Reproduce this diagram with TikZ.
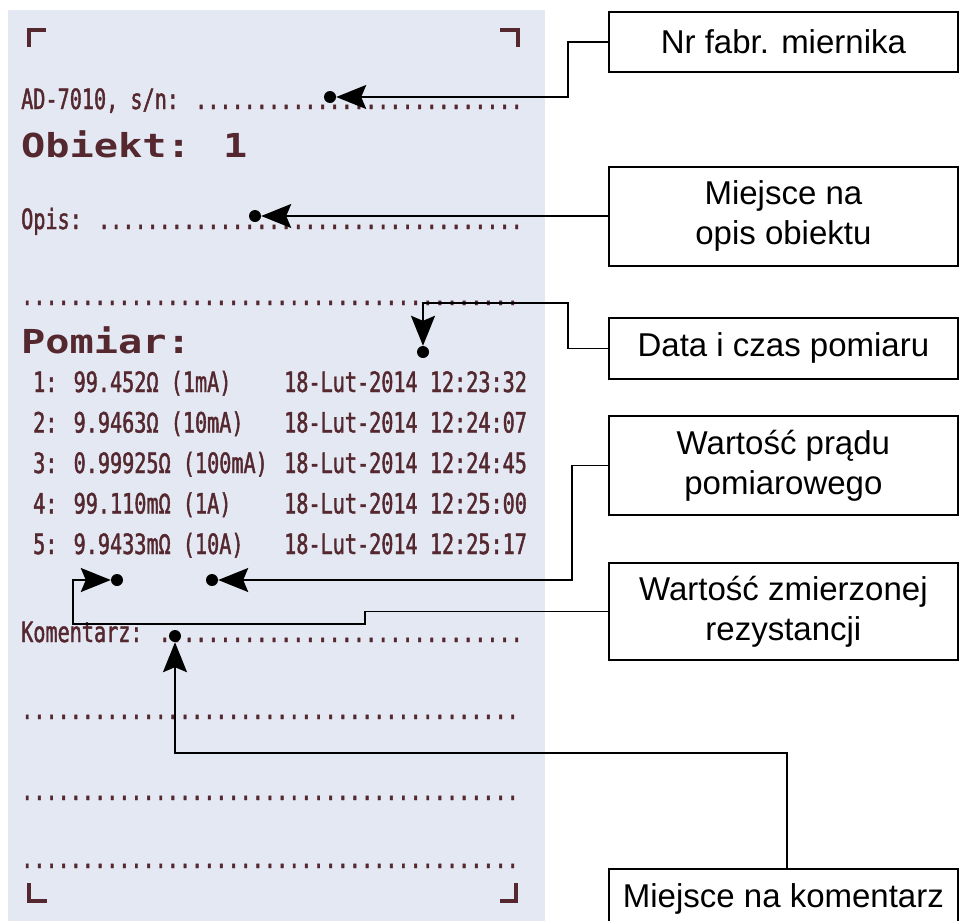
\documentclass[tikz,border=0pt]{standalone}
\usepackage{fontspec}
\usepackage{tikz}
\usetikzlibrary{positioning, arrows.meta}
\newfontfamily\notefont{Liberation Sans}
\newfontfamily\receiptfont[FakeStretch=0.72, FakeBold=1.5]{DejaVu Sans Mono}
\newfontfamily\receiptwide[FakeStretch=1.22]{DejaVu Sans Mono}
\definecolor{paper}{RGB}{228,232,243}
\definecolor{ink}{RGB}{84,40,46}

\begin{document}
\begin{tikzpicture}[x=1pt, y=-1pt]
    \tikzstyle{note} = [rectangle, draw=black, line width=1.8pt, fill=white, minimum width=349pt, anchor=north west, align=center, inner sep=0pt, font=\notefont\fontsize{33pt}{40pt}\selectfont]
    \tikzstyle{printline} = [anchor=base west, inner sep=0pt, text=ink, font=\receiptfont\fontsize{28pt}{28pt}\selectfont]
    \tikzstyle{printhead} = [printline, font=\receiptwide\bfseries\fontsize{33pt}{33pt}\selectfont]
    \tikzstyle{spot} = [circle, fill=black, inner sep=0pt, minimum size=12pt]
    \tikzstyle{link} = [line width=1.8pt, -{Stealth[length=30pt, width=24pt, inset=5pt]}]
    \tikzstyle{corner} = [ink, line width=4pt]

    \useasboundingbox (0,0) rectangle (959,921);

    % the printout
    \fill [paper] (8,10) rectangle (545,921);
    \draw [corner] (29,47) -- (29,30) -- (46,30);
    \draw [corner] (500,30) -- (518,30) -- (518,47);
    \draw [corner] (29,883) -- (29,901) -- (47,901);
    \draw [corner] (500,901) -- (516,901) -- (516,883);

    \node [printline] (serialline) at (21,109) {AD-7010, s/n: ...........................};
    \node [printhead] (objhead) at (21,157) {Obiekt: 1};
    \node [printline] (opisline) at (21,229) {Opis: ...................................};
    \node [printline] (opisline2) at (21,305) {.........................................};
    \node [printhead] (measurehead) at (21,353) {Pomiar:};
    \node [printline] (val1) at (33,392) {1: 99.452Ω (1mA)};
    \node [printline] (stamp1) at (284,392) {18-Lut-2014 12:23:32};
    \node [printline] (val2) at (33,432.5) {2: 9.9463Ω (10mA)};
    \node [printline] (stamp2) at (284,432.5) {18-Lut-2014 12:24:07};
    \node [printline] (val3) at (33,473) {3: 0.99925Ω (100mA)};
    \node [printline] (stamp3) at (284,473) {18-Lut-2014 12:24:45};
    \node [printline] (val4) at (33,513.5) {4: 99.110mΩ (1A)};
    \node [printline] (stamp4) at (284,513.5) {18-Lut-2014 12:25:00};
    \node [printline] (val5) at (33,554) {5: 9.9433mΩ (10A)};
    \node [printline] (stamp5) at (284,554) {18-Lut-2014 12:25:17};
    \node [printline] (komentline) at (21,642) {Komentarz: ..............................};
    \node [printline] (komentline2) at (21,719) {.........................................};
    \node [printline] (komentline3) at (21,800) {.........................................};
    \node [printline] (komentline4) at (21,868) {.........................................};

    % labels
    \node [note, minimum height=60pt] (serialbox) at (608,11) {Nr fabr. miernika};
    \node [note, minimum height=99pt] (opisbox) at (608,166) {Miejsce na\\opis obiektu};
    \node [note, minimum height=61pt] (databox) at (608,317) {Data i czas pomiaru};
    \node [note, minimum height=99pt] (pradbox) at (608,415) {Wartość prądu\\pomiarowego};
    \node [note, minimum height=97pt] (rezbox) at (608,562) {Wartość zmierzonej\\rezystancji};
    \node [note, minimum height=60pt] (komentbox) at (608,868) {Miejsce na komentarz};

    % pointed places
    \node [spot] (serialdot) at (330,97) {};
    \node [spot] (opisdot) at (255,216) {};
    \node [spot] (datadot) at (423,352) {};
    \node [spot] (praddot) at (212,580) {};
    \node [spot] (rezdot) at (117,580) {};
    \node [spot] (komentdot) at (175,636) {};

    \coordinate (databend) at (423,303);
    \coordinate (rezstep) at (365,624);
    \coordinate (rezbend) at (73,624);
    \coordinate (komentbend) at (787,753);

    \draw [link] (serialbox.west) -- ++(-40,0) |- (serialdot);
    \draw [link] (opisdot -| opisbox.west) -- (opisdot);
    \draw [link] (databox.west) -- ++(-40,0) |- (databend) -- (datadot);
    \draw [link] (pradbox.west) -- ++(-36,0) |- (praddot);
    \draw [link] (rezbox.west) -| (rezstep) -- (rezbend) |- (rezdot);
    \draw [link] (komentbox.north -| komentbend) -- (komentbend) -| (komentdot);
\end{tikzpicture}
\end{document}
